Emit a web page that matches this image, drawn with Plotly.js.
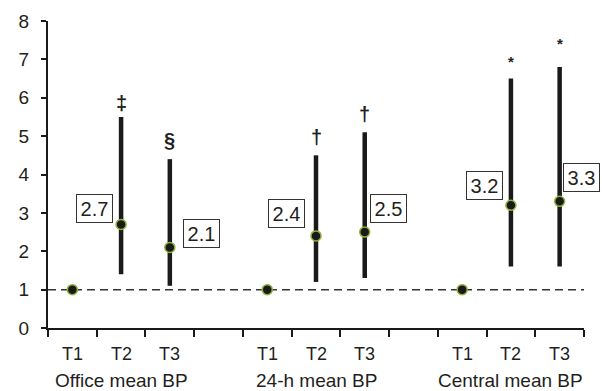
<!DOCTYPE html>
<html>
<head>
<meta charset="utf-8">
<script src="https://cdn.plot.ly/plotly-3.0.1.min.js"></script>
<style>html,body{margin:0;padding:0;background:#fff;}#chart{width:602px;height:391px;}</style>
</head>
<body>
<div id="chart"></div>
<script>
// ---- data ----
var groups = ['Office mean BP', '24-h mean BP', 'Central mean BP'];
var periods = ['T1', 'T2', 'T3'];
var ratio = [1, 2.7, 2.1, 1, 2.4, 2.5, 1, 3.2, 3.3];
var lower = [1, 1.4, 1.1, 1, 1.2, 1.3, 1, 1.6, 1.6];
var upper = [1, 5.5, 4.4, 1, 4.5, 5.1, 1, 6.5, 6.8];
var marks = ['', '\u2021', '\u00a7', '', '\u2020', '\u2020', '', '*', '*'];
var yTicks = [0, 1, 2, 3, 4, 5, 6, 7, 8];
var refValue = 1;

// ---- styling / placement (pixel offsets of the value boxes and marks) ----
var boxDx = [0, -26.5, 32, 0, -29.5, 23.5, 0, -26.5, 22];
var boxDy = [0, 15.5, 13.5, 0, 22.5, 23.5, 0, 19.5, 23.5];
var markDy = [0, 14, 19, 0, 18, 18, 0, 17, 24];
var FONT = 'Liberation Sans, Arial, sans-serif';
var TXT = '#231f20';

var xs = [];
for (var g = 0; g < groups.length; g++) {
  for (var p = 0; p < periods.length; p++) xs.push(g * 4 + p + 0.5);
}
var nSlots = groups.length * 4 - 1;

var plus = ratio.map(function (v, i) { return upper[i] - v; });
var minus = ratio.map(function (v, i) { return v - lower[i]; });

var traces = [
  {
    x: [0, nSlots], y: [refValue, refValue], mode: 'lines',
    line: {color: '#333', width: 1.5, dash: '8px,5px'},
    hoverinfo: 'skip', showlegend: false
  },
  {
    x: xs, y: ratio, mode: 'markers', type: 'scatter',
    marker: {size: 10, color: '#1a1a1a', line: {color: '#8fb33e', width: 1.5}},
    error_y: {type: 'data', symmetric: false, array: plus, arrayminus: minus,
              thickness: 4.5, width: 0, color: '#1a1a1a'},
    showlegend: false
  }
];

var ann = [];
xs.forEach(function (x, i) {
  if (ratio[i] !== refValue) {
    ann.push({
      x: x, y: ratio[i], xref: 'x', yref: 'y', text: ratio[i].toFixed(1),
      showarrow: false, xshift: boxDx[i], yshift: boxDy[i],
      font: {family: FONT, size: 20, color: TXT},
      bgcolor: '#fff', bordercolor: '#333', borderwidth: 1, borderpad: 0,
      width: 35, height: 27
    });
  }
  if (marks[i]) {
    ann.push({
      x: x, y: upper[i], xref: 'x', yref: 'y', text: '<b>' + marks[i] + '</b>', showarrow: false,
      yshift: markDy[i], yanchor: 'middle',
      font: {family: FONT, size: marks[i] === '*' ? 15 : 20, color: TXT}
    });
  }
  ann.push({
    x: x, y: 0, xref: 'x', yref: 'paper', text: periods[i % 3], showarrow: false,
    yanchor: 'middle', yshift: -26, font: {family: FONT, size: 18, color: TXT}
  });
});
groups.forEach(function (gname, g) {
  ann.push({
    x: g * 4 + 1.5, y: 0, xref: 'x', yref: 'paper', text: gname, showarrow: false,
    yanchor: 'middle', yshift: -52, font: {family: FONT, size: 19, color: TXT}
  });
});

var ticksX = [];
for (var k = 0; k <= nSlots; k++) ticksX.push(k);

var layout = {
  width: 602, height: 391,
  margin: {l: 48, r: 18, t: 21, b: 63},
  paper_bgcolor: '#fff', plot_bgcolor: '#fff',
  showlegend: false,
  font: {family: FONT, size: 19, color: TXT},
  xaxis: {
    range: [0, nSlots], tickmode: 'array', tickvals: ticksX,
    showticklabels: false, ticks: 'outside', ticklen: 7, tickwidth: 2, tickcolor: '#1a1a1a',
    showline: true, linewidth: 2, linecolor: '#1a1a1a', showgrid: false, zeroline: false,
    fixedrange: true
  },
  yaxis: {
    range: [0, 8], tickmode: 'array', tickvals: yTicks,
    ticks: 'outside', ticklen: 5, tickwidth: 2, tickcolor: '#1a1a1a',
    tickfont: {family: FONT, size: 19, color: TXT},
    showline: true, linewidth: 2, linecolor: '#1a1a1a', showgrid: false, zeroline: false,
    ticklabelstandoff: 8, fixedrange: true
  },
  annotations: ann
};

Plotly.newPlot('chart', traces, layout, {displayModeBar: false, staticPlot: true});
</script>
</body>
</html>
